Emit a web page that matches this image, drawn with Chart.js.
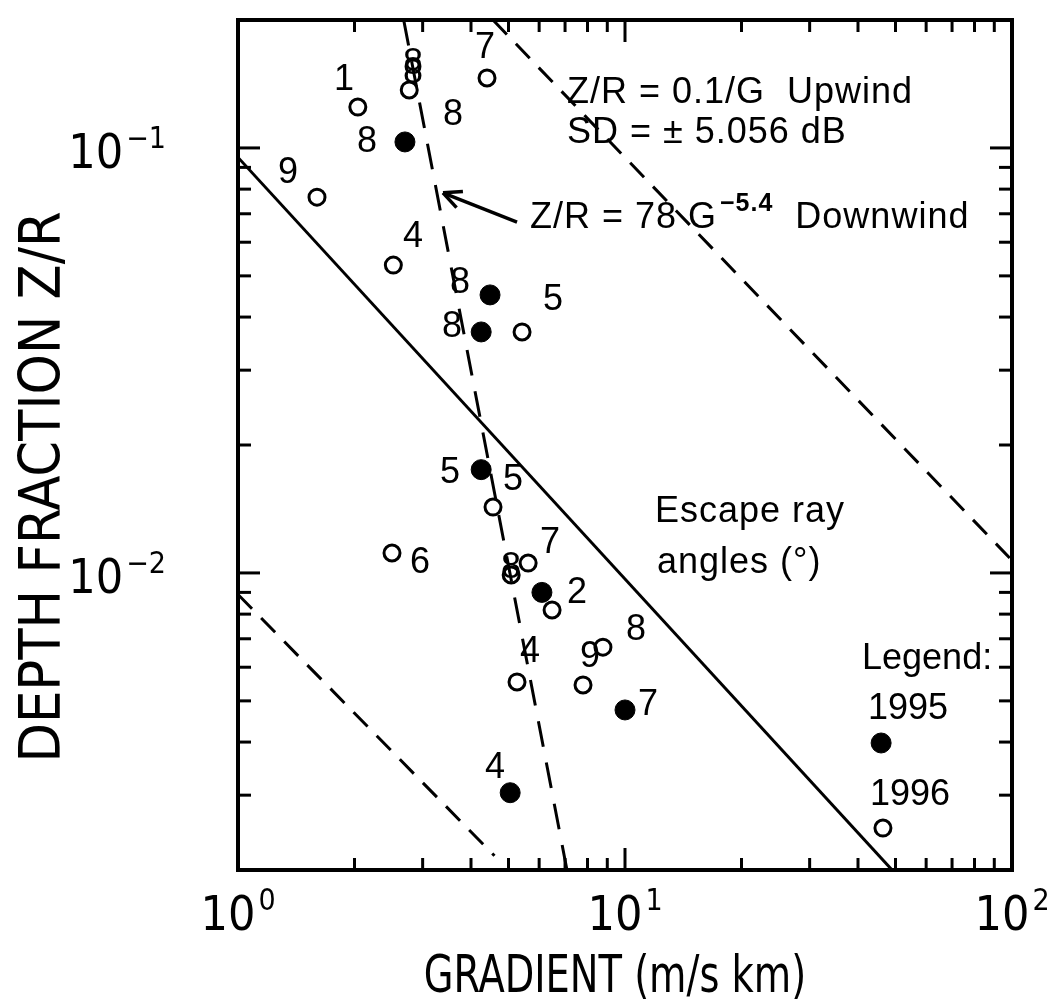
<!DOCTYPE html>
<html><head><meta charset="utf-8">
<script src="https://cdn.jsdelivr.net/npm/chart.js@4.4.1/dist/chart.umd.min.js"></script>
<style>html,body{margin:0;padding:0;background:#fff;}#wrap{width:1050px;height:1006px;position:relative;}</style>
</head><body><div id="wrap"><canvas id="c" width="1050" height="1006"></canvas></div>
<script>
// ---------- axis ticks ----------
const xMajorTicks = [1, 10, 100];
const xTickBase = ['10', '10', '10'];
const xTickExp = ['0', '1', '2'];
const xMinorTicks = [2, 3, 4, 5, 6, 7, 8, 9, 20, 30, 40, 50, 60, 70, 80, 90];
const yMajorTicks = [0.01, 0.1];
const yTickBase = ['10', '10'];
const yTickExp = ['\u22122', '\u22121'];
const yMinorTicks = [0.003, 0.004, 0.005, 0.006, 0.007, 0.008, 0.009, 0.02, 0.03, 0.04, 0.05, 0.06, 0.07, 0.08, 0.09, 0.2];

// ---------- data: gradient G (m/s km) and depth fraction Z/R ----------
const g1995 = [2.70, 4.48, 4.25, 4.25, 6.10, 10.0, 5.05];
const z1995 = [0.1033, 0.0451, 0.0369, 0.0175, 0.0090, 0.00476, 0.00304];
const g1996 = [2.04, 2.77, 4.40, 1.60, 2.52, 5.42, 4.56, 2.50, 5.62, 5.08, 6.48, 5.26, 7.79, 8.77];
const z1996 = [0.1248, 0.1369, 0.1461, 0.0766, 0.0530, 0.0369, 0.01429, 0.01114, 0.01055, 0.00989, 0.00818, 0.00554, 0.00545, 0.00669];
const legendG = [45.9, 46.4];
const legendZ = [0.00398, 0.00251];

// fitted / bound lines (end points)
const upwindFitG = [1, 49];
const upwindFitZ = [0.095, 0.002];
const upperBoundG = [4.56, 100];
const upperBoundZ = [0.2, 0.0107];
const lowerBoundG = [1, 4.6];
const lowerBoundZ = [0.0089, 0.00216];
const downwindFitG = [2.68, 7.08];
const downwindFitZ = [0.2, 0.002];

// escape ray angle labels (degrees) and where they sit (G, Z/R)
const angleText = ['1','8','8','7','8','8','9','4','8','5','8','5','5','6','7','8','2','8','9','4','7','4'];
const angleG = [1.879, 2.833, 2.833, 4.347, 3.594, 2.154, 1.346, 2.833, 3.747, 6.516, 3.573, 3.530, 5.136, 2.953, 6.400, 5.076, 7.516, 10.68, 8.120, 5.683, 11.47, 4.614];
const angleZ = [0.1445, 0.1576, 0.1501, 0.1718, 0.1195, 0.1033, 0.0873, 0.0617, 0.0481, 0.0439, 0.0379, 0.01718, 0.01654, 0.01055, 0.01176, 0.01027, 0.00897, 0.00734, 0.00634, 0.00651, 0.00489, 0.00348];

// text notes
const noteText = ['Z/R = 0.1/G  Upwind', 'SD = \u00b1 5.056 dB', 'Escape ray', 'angles (\u00b0)', 'Legend:', '1995', '1996'];
const noteG = [7.08, 7.08, 11.95, 12.1, 40.97, 42.46, 42.97];
const noteZ = [0.1346, 0.1084, 0.0139, 0.01055, 0.00627, 0.00478, 0.00300];
const noteSpaced = [true, true, true, true, false, false, false];
const downText = ['Z/R = 78 G', '\u22125.4', '  Downwind'];
const downG = 5.68, downZ = 0.0684;
const arrowFromG = 5.26, arrowFromZ = 0.0669, arrowToG = 3.386, arrowToZ = 0.0784;

const xTitle = 'GRADIENT (m/s km)';
const yTitle = 'DEPTH FRACTION Z/R';

const pts = (gs, zs) => gs.map((g, i) => ({x: g, y: zs[i]}));

const NARROW = '"Liberation Sans Narrow", "DejaVu Sans Condensed", sans-serif';
const SANS = '"Liberation Sans", Arial, sans-serif';

const decor = {
  id: 'decor',
  afterDatasetsDraw(chart) {
    const {ctx, chartArea: a, scales: {x, y}} = chart;
    ctx.save();
    ctx.strokeStyle = '#000'; ctx.fillStyle = '#000';
    // ticks on all four sides (inward)
    ctx.lineWidth = 3;
    const tick = (x1, y1, x2, y2) => { ctx.beginPath(); ctx.moveTo(x1, y1); ctx.lineTo(x2, y2); ctx.stroke(); };
    const xt = (v, len) => { const p = x.getPixelForValue(v); tick(p, a.bottom, p, a.bottom - len); tick(p, a.top, p, a.top + len); };
    const yt = (v, len) => { const p = y.getPixelForValue(v); tick(a.left, p, a.left + len, p); tick(a.right, p, a.right - len, p); };
    xMinorTicks.forEach(v => xt(v, 12));
    xMajorTicks.forEach(v => xt(v, 22));
    yMinorTicks.forEach(v => yt(v, 13));
    yMajorTicks.forEach(v => yt(v, 22));
    // frame
    ctx.lineWidth = 4;
    ctx.strokeRect(a.left, a.top, a.right - a.left, a.bottom - a.top);

    // x tick labels
    ctx.textBaseline = 'middle';
    xMajorTicks.forEach((v, i) => {
      const p = x.getPixelForValue(v);
      ctx.font = '48px ' + NARROW; const wb = ctx.measureText(xTickBase[i]).width;
      ctx.font = '30px ' + NARROW; const ws = ctx.measureText(xTickExp[i]).width;
      const left = p - (wb + 3 + ws) / 2, cy = a.bottom + 48;
      ctx.textAlign = 'left';
      ctx.font = '48px ' + NARROW; ctx.fillText(xTickBase[i], left, cy);
      ctx.font = '30px ' + NARROW; ctx.fillText(xTickExp[i], left + wb + 3, cy - 16);
    });
    // y tick labels
    yMajorTicks.forEach((v, i) => {
      const p = y.getPixelForValue(v) + 8;
      const right = a.left - 72;
      ctx.textAlign = 'right';
      ctx.font = '30px ' + NARROW; const ws = ctx.measureText(yTickExp[i]).width;
      ctx.fillText(yTickExp[i], right, p - 16);
      ctx.font = '48px ' + NARROW; ctx.fillText(yTickBase[i], right - ws - 3, p);
    });
    // axis titles
    ctx.textAlign = 'center';
    ctx.save();
    ctx.translate((a.left + a.right) / 2 - 10, a.bottom + 108);
    ctx.scale(0.82, 1);
    ctx.font = '52px ' + NARROW;
    ctx.fillText(xTitle, 0, 0);
    ctx.restore();
    ctx.save();
    ctx.translate(45, (a.top + a.bottom) / 2 + 42);
    ctx.rotate(-Math.PI / 2);
    ctx.font = '57px ' + NARROW;
    ctx.fillText(yTitle, 0, 0);
    ctx.restore();

    // angle labels
    ctx.font = '36px ' + SANS;
    ctx.textAlign = 'center';
    angleText.forEach((t, i) => ctx.fillText(t, x.getPixelForValue(angleG[i]), y.getPixelForValue(angleZ[i])));
    // notes
    ctx.textAlign = 'left';
    noteText.forEach((t, i) => {
      ctx.letterSpacing = noteSpaced[i] ? '1px' : '0px';
      ctx.fillText(t, x.getPixelForValue(noteG[i]), y.getPixelForValue(noteZ[i]));
    });
    // downwind equation with superscript
    ctx.letterSpacing = '1px';
    let dx = x.getPixelForValue(downG); const dy = y.getPixelForValue(downZ);
    ctx.font = '36px ' + SANS; ctx.fillText(downText[0], dx, dy); dx += ctx.measureText(downText[0]).width + 3;
    ctx.font = 'bold 25px ' + SANS; ctx.fillText(downText[1], dx, dy - 14); dx += ctx.measureText(downText[1]).width;
    ctx.font = '36px ' + SANS; ctx.fillText(downText[2], dx, dy);
    ctx.letterSpacing = '0px';
    // arrow
    const ax1 = x.getPixelForValue(arrowFromG), ay1 = y.getPixelForValue(arrowFromZ);
    const ax2 = x.getPixelForValue(arrowToG), ay2 = y.getPixelForValue(arrowToZ);
    ctx.lineWidth = 3.5;
    tick(ax1, ay1, ax2, ay2);
    const ang = Math.atan2(ay1 - ay2, ax1 - ax2);
    [0.45, -0.45].forEach(d => tick(ax2, ay2, ax2 + 20 * Math.cos(ang + d), ay2 + 20 * Math.sin(ang + d)));
    ctx.restore();
  }
};

const lineDs = (label, data, dash) => ({
  label, data, type: 'line', showLine: true, borderColor: '#000', borderWidth: 3,
  borderDash: dash, pointRadius: 0, fill: false, tension: 0, order: 2
});

new Chart(document.getElementById('c'), {
  type: 'scatter',
  data: {
    datasets: [
      lineDs('Z/R = 0.1/G (upwind fit)', pts(upwindFitG, upwindFitZ), []),
      lineDs('upper bound', pts(upperBoundG, upperBoundZ), [20, 13]),
      lineDs('lower bound', pts(lowerBoundG, lowerBoundZ), [20, 13]),
      lineDs('Z/R = 78 G^-5.4 (downwind fit)', pts(downwindFitG, downwindFitZ), [26, 16]),
      { label: '1995', data: pts(g1995, z1995), pointStyle: 'circle', pointRadius: 10,
        backgroundColor: '#000', borderColor: '#000', borderWidth: 1, order: 1 },
      { label: '1996', data: pts(g1996, z1996), pointStyle: 'circle', pointRadius: 8,
        backgroundColor: 'rgba(0,0,0,0)', borderColor: '#000', borderWidth: 3, order: 1 },
      { label: 'legend markers', data: pts(legendG, legendZ), pointStyle: 'circle',
        pointRadius: [10, 8], backgroundColor: ['#000', 'rgba(0,0,0,0)'], borderColor: '#000',
        borderWidth: [1, 3], order: 1 }
    ]
  },
  options: {
    responsive: false, animation: false, devicePixelRatio: 1,
    layout: { padding: { left: 238, top: 20, right: 38, bottom: 136 } },
    plugins: { legend: { display: false }, tooltip: { enabled: false } },
    scales: {
      x: { type: 'logarithmic', min: 1, max: 100, display: false },
      y: { type: 'logarithmic', min: 0.002, max: 0.2, display: false }
    }
  },
  plugins: [decor]
});
</script>
</body></html>
